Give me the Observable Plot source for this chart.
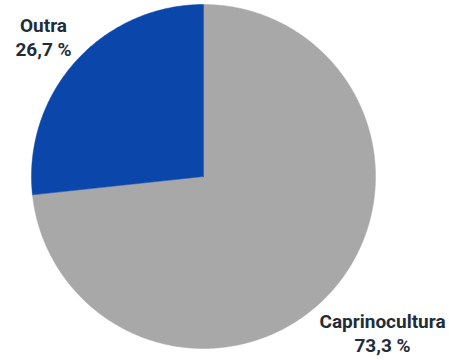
<!DOCTYPE html>
<html><head><meta charset="utf-8">
<script src="https://cdn.jsdelivr.net/npm/d3@7"></script>
<script src="https://cdn.jsdelivr.net/npm/@observablehq/plot@0.6"></script>
<style>body{margin:0;background:#fff}</style>
</head><body><div id="chart"></div>
<script>
const categories = ["Caprinocultura", "Outra"];
const values = [73.3, 26.7];
const valueLabels = ["73,3 %", "26,7 %"];
const colors = ["#a8a8a8", "#0b46ab"];

const total = d3.sum(values);
const pts = [];
let acc = 0;
categories.forEach((c, i) => {
  const a0 = acc / total * 2 * Math.PI;
  acc += values[i];
  const a1 = acc / total * 2 * Math.PI;
  pts.push({cat: c, x: 0, y: 0});
  const n = Math.max(2, Math.ceil((a1 - a0) / (Math.PI / 360)));
  for (let k = 0; k <= n; k++) {
    const a = a0 + (a1 - a0) * k / n;
    pts.push({cat: c, x: Math.sin(a), y: Math.cos(a)});
  }
  pts.push({cat: c, x: 0, y: 0});
});

const labelData = [
  {text: categories[1] + "\n" + valueLabels[1], x: (43 - 203) / 172, y: (176 - 36) / 172},
  {text: categories[0] + "\n" + valueLabels[0], x: (382 - 203) / 172, y: (176 - 332) / 172}
];

const chart = Plot.plot({
  width: 449, height: 360,
  margin: 0,
  x: {domain: [-1, 1], range: [31, 375], axis: null},
  y: {domain: [-1, 1], range: [348, 4], axis: null},
  color: {domain: categories, range: colors},
  marks: [
    Plot.line(pts, {x: "x", y: "y", z: "cat", fill: "cat", stroke: "cat", strokeWidth: 0.5, curve: "linear"}),
    Plot.text(labelData, {x: "x", y: "y", text: "text", fill: "#1f2d3a", fontSize: 19, fontWeight: "bold", lineHeight: 1.25, fontFamily: "Roboto"})
  ]
});
document.getElementById("chart").appendChild(chart);
</script>
</body></html>
